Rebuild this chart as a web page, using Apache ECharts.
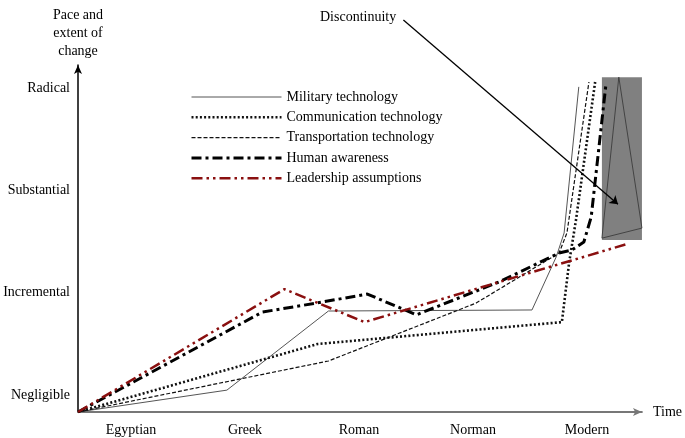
<!DOCTYPE html>
<html><head><meta charset="utf-8">
<script src="https://cdn.jsdelivr.net/npm/echarts@6/dist/echarts.min.js"></script>
<style>html,body{margin:0;padding:0;background:#fff}#c{width:685px;height:438px}</style>
</head><body><div id="c"></div>
<script>
const categories = ['Egyptian', 'Greek', 'Roman', 'Norman', 'Modern'];
const levels = ['Negligible', 'Incremental', 'Substantial', 'Radical'];
const seriesNames = ['Military technology', 'Communication technology', 'Transportation technology', 'Human awareness', 'Leadership assumptions'];
// [time, pace] on a 0-100 scale
const military = [[0,0],[26.4,6.3],[44.4,29.1],[80.5,29.4],[84.8,44.7],[86.2,51.6],[88.8,93.7]];
const communication = [[0,0],[42.5,19.6],[85.8,25.9],[87.1,43.2],[88.3,55.3],[91.7,95.1]];
const transportation = [[0,0],[44.4,14.7],[70.6,31.4],[85.3,45.8],[86.7,51.6],[90.6,95.1]];
const humanAwareness = [[0,0],[32.7,28.8],[42.3,31.4],[51.3,34.0],[60.0,28.0],[74.7,37.5],[85.3,45.8],[87.6,46.7],[89.7,49.0],[91.0,56.2],[93.6,94.2]];
const leadership = [[0,0],[36.6,35.4],[50.8,25.9],[97.3,48.4]];
const discontinuityBox = [[92.9,96.5],[100,49.6]];
const discontinuityShape = [[92.9,50.1],[95.9,96.5],[100,53.0],[92.9,50.1]];
const discontinuityArrow = [[57.7,113.0],[95.75,59.9]];

const FONT = 'Liberation Serif';
const chart = echarts.init(document.getElementById('c'));
function lineSeries(name, data, color, width, type) {
  return {
    name, type: 'line', data, symbol: 'none', showSymbol: false, z: 5,
    xAxisIndex: 0, yAxisIndex: 0,
    lineStyle: { color, width, type, cap: 'butt' }, itemStyle: { color },
    emphasis: { disabled: true }, animation: false
  };
}
chart.setOption({
  animation: false,
  textStyle: { fontFamily: FONT },
  grid: [
    { left: 78, right: 42, top: 65, bottom: 26 },
    { left: 131, right: 98, top: 65, bottom: 26 },
    { left: 78, right: 42, top: 88, bottom: 43 }
  ],
  xAxis: [
    { type: 'value', gridIndex: 0, min: 0, max: 100, name: 'Time', nameLocation: 'end', nameGap: 11,
      nameTextStyle: { fontFamily: FONT, fontSize: 14, color: '#000' },
      axisLine: { show: true, symbol: ['none', 'arrow'], symbolSize: [6, 9], lineStyle: { color: '#777', width: 1.8 } },
      axisTick: { show: false }, axisLabel: { show: false }, splitLine: { show: false } },
    { type: 'category', gridIndex: 1, data: categories, boundaryGap: false,
      axisLine: { show: false }, axisTick: { show: false }, splitLine: { show: false },
      axisLabel: { fontFamily: FONT, fontSize: 14, color: '#000', margin: 11 } },
    { type: 'value', gridIndex: 2, show: false }
  ],
  yAxis: [
    { type: 'value', gridIndex: 0, min: 0, max: 100,
      axisLine: { show: true, symbol: ['none', 'arrow'], symbolSize: [6, 9], lineStyle: { color: '#000', width: 1.5 } },
      axisTick: { show: false }, axisLabel: { show: false }, splitLine: { show: false } },
    { type: 'value', gridIndex: 1, show: false },
    { type: 'category', gridIndex: 2, data: levels, boundaryGap: false,
      axisLine: { show: false }, axisTick: { show: false }, splitLine: { show: false },
      axisLabel: { fontFamily: FONT, fontSize: 14, color: '#000', margin: 8 } }
  ],
  legend: {
    orient: 'vertical', left: 185, top: 85, itemWidth: 90, itemHeight: 14, itemGap: 6.3,
    data: seriesNames, selectedMode: false,
    textStyle: { fontFamily: FONT, fontSize: 14, color: '#000' },
    itemStyle: { opacity: 0 },
    lineStyle: { width: 'inherit', type: 'inherit' }
  },
  graphic: [
    { type: 'text', x: 78, y: 6, style: { text: 'Pace and\nextent of\nchange', font: '14px "Liberation Serif"', fill: '#000', align: 'center', lineHeight: 18 } },
    { type: 'text', left: 320, top: 10, style: { text: 'Discontinuity', font: '14px "Liberation Serif"', fill: '#000' } }
  ],
  series: [
    lineSeries(seriesNames[0], military, '#555', 1, 'solid'),
    lineSeries(seriesNames[1], communication, '#111', 2.6, [2, 2.2]),
    lineSeries(seriesNames[2], transportation, '#111', 1.2, [4, 2]),
    lineSeries(seriesNames[3], humanAwareness, '#000', 3, [10, 4, 3, 4]),
    lineSeries(seriesNames[4], leadership, '#8a1010', 2.5, [11, 4, 2.5, 4, 2.5, 4]),
    {
      name: 'box', type: 'line', data: discontinuityShape, symbol: 'none', z: 3,
      lineStyle: { color: '#333', width: 0.8 }, emphasis: { disabled: true },
      markArea: { silent: true, itemStyle: { color: '#808080', opacity: 1 },
        data: [[{ coord: discontinuityBox[0] }, { coord: discontinuityBox[1] }]] }
    },
    {
      name: 'arrow', type: 'lines', coordinateSystem: 'cartesian2d', xAxisIndex: 0, yAxisIndex: 0,
      clip: false, z: 6,
      symbol: ['none', 'arrow'], symbolSize: 8,
      lineStyle: { color: '#000', width: 1.3, opacity: 1 },
      data: [{ coords: discontinuityArrow }]
    }
  ]
});
</script></body></html>
